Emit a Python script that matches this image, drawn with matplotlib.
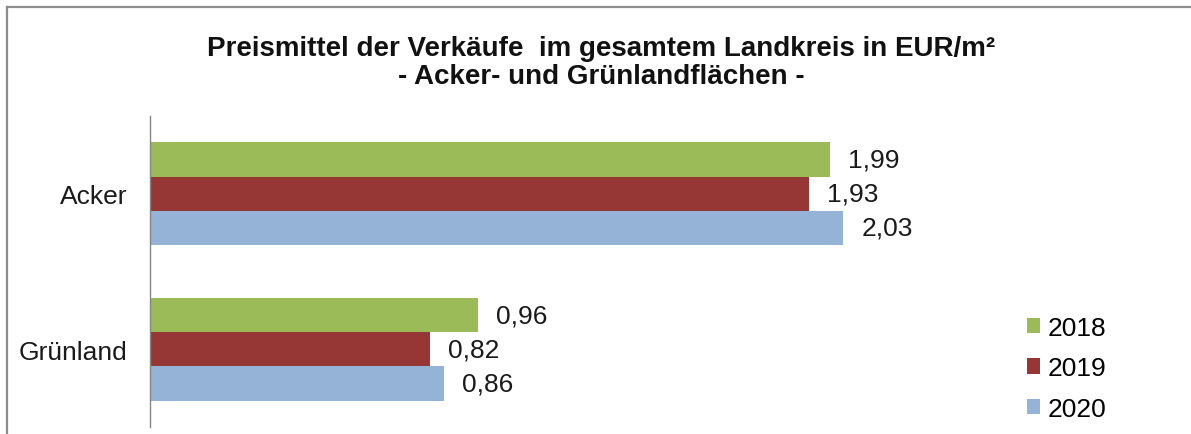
import matplotlib
matplotlib.use("Agg")
import matplotlib.pyplot as plt
from matplotlib.patches import Patch
from matplotlib.lines import Line2D
import numpy as np

plt.rcParams['font.family'] = ['Liberation Sans', 'DejaVu Sans']

categories = ["Acker", "Grünland"]
years = ["2018", "2019", "2020"]
values_2018 = [1.99, 0.96]
values_2019 = [1.93, 0.82]
values_2020 = [2.03, 0.86]
series = [values_2018, values_2019, values_2020]
colors = ["#9BBB59", "#963735", "#95B3D7"]
title = "Preismittel der Verkäufe  im gesamtem Landkreis in EUR/m²\n- Acker- und Grünlandflächen -"

W, H = 1191, 435
fig = plt.figure(figsize=(W / 100, H / 100), dpi=100)
ax = fig.add_axes([150 / W, (H - 428) / H, 854 / W, (428 - 117) / H])

bh = 0.22
y = np.arange(len(categories))
for i, (vals, col) in enumerate(zip(series, colors)):
    pos = y + (i - 1) * bh
    ax.barh(pos, vals, height=bh, color=col, edgecolor='none')
    for p, v in zip(pos, vals):
        ax.text(v + 0.052, p, f"{v:.2f}".replace('.', ','), va='center', ha='left',
                fontsize=19, color='#1a1a1a')

ax.set_ylim(1.5, -0.5)
ax.set_xlim(0, 2.5)
ax.set_yticks(y)
ax.set_yticklabels(categories, fontsize=19, color='#1a1a1a')
ax.tick_params(axis='y', length=0, pad=16)
ax.set_xticks([])
for s in ['top', 'right', 'bottom']:
    ax.spines[s].set_visible(False)
ax.spines['left'].set_color('#868686')
ax.spines['left'].set_linewidth(1.0)

fig.text(601 / W, 1 - 63 / H, title, ha='center', va='center', fontsize=20,
         fontweight='bold', linespacing=1.15, color='#111111')

handles = [Patch(facecolor=c, edgecolor='none', label=l) for c, l in zip(colors, years)]
fig.legend(handles=handles, loc='upper left', bbox_to_anchor=(1027 / W, 1 - 317 / H),
           frameon=False, fontsize=19, handlelength=0.5, handleheight=0.5,
           handletextpad=0.3, labelspacing=0.62, borderpad=0, borderaxespad=0)

# outer frame (top and left edges visible)
fig.add_artist(Line2D([7 / W, 7 / W], [0, 1 - 8 / H], transform=fig.transFigure,
                      color='#8c8c8c', lw=1.6))
fig.add_artist(Line2D([7 / W, 1], [1 - 8 / H, 1 - 8 / H], transform=fig.transFigure,
                      color='#8c8c8c', lw=1.6))

fig.savefig("out.png", dpi=100)
